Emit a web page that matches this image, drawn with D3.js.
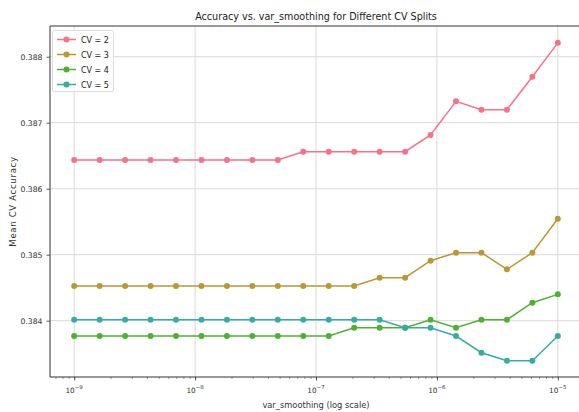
<!DOCTYPE html>
<html>
<head>
<meta charset="utf-8">
<script src="https://cdn.jsdelivr.net/npm/d3@7"></script>
<style>
  body { margin: 0; background: #fff; }
  svg { display: block; font-family: "DejaVu Sans", sans-serif; }
</style>
</head>
<body>
<script>
// var_smoothing = logspace(-9, -5, 20)
var smoothing = [1e-9, 1.624e-9, 2.637e-9, 4.281e-9, 6.952e-9, 1.129e-8, 1.833e-8, 2.976e-8,
  4.833e-8, 7.848e-8, 1.274e-7, 2.069e-7, 3.360e-7, 5.456e-7, 8.859e-7, 1.438e-6,
  2.336e-6, 3.793e-6, 6.158e-6, 1e-5];

var cv2 = [0.386435, 0.386435, 0.386435, 0.386435, 0.386435, 0.386435, 0.386435, 0.386435,
  0.386435, 0.386561, 0.386561, 0.386561, 0.386561, 0.386561, 0.386814, 0.387324,
  0.387197, 0.387197, 0.387697, 0.388210];
var cv3 = [0.384526, 0.384526, 0.384526, 0.384526, 0.384526, 0.384526, 0.384526, 0.384526,
  0.384526, 0.384526, 0.384526, 0.384526, 0.384652, 0.384652, 0.384909, 0.385030,
  0.385030, 0.384779, 0.385030, 0.385545];
var cv4 = [0.383768, 0.383768, 0.383768, 0.383768, 0.383768, 0.383768, 0.383768, 0.383768,
  0.383768, 0.383768, 0.383768, 0.383894, 0.383894, 0.383894, 0.384015, 0.383894,
  0.384015, 0.384015, 0.384273, 0.384399];
var cv5 = [0.384015, 0.384015, 0.384015, 0.384015, 0.384015, 0.384015, 0.384015, 0.384015,
  0.384015, 0.384015, 0.384015, 0.384015, 0.384015, 0.383894, 0.383894, 0.383768,
  0.383515, 0.383394, 0.383394, 0.383768];

var seriesNames = ["CV = 2", "CV = 3", "CV = 4", "CV = 5"];
var seriesColors = ["#f77189", "#bb9832", "#50b131", "#36ada4"];
var yTicks = [0.384, 0.385, 0.386, 0.387, 0.388];
var xTicks = [1e-9, 1e-8, 1e-7, 1e-6, 1e-5];

var series = [cv2, cv3, cv4, cv5];

var width = 579, height = 412;
var mLeft = 50, mRight = 582, mTop = 26, mBottom = 377;

var svg = d3.select("body").append("svg")
    .attr("width", width)
    .attr("height", height);

var x = d3.scaleLog()
    .domain([10 ** (-9 - 0.2), 10 ** (-5 + 0.2)])
    .range([mLeft, mRight]);

var y = d3.scaleLinear()
    .domain([0.383147, 0.388465])
    .range([mBottom, mTop]);

// grid
svg.append("g").selectAll("line")
    .data(xTicks).enter()
    .append("line")
    .attr("x1", function(d){ return x(d); })
    .attr("x2", function(d){ return x(d); })
    .attr("y1", mTop).attr("y2", mBottom)
    .attr("stroke", "#dadada").attr("stroke-width", 1);

svg.append("g").selectAll("line")
    .data(yTicks).enter()
    .append("line")
    .attr("y1", function(d){ return y(d); })
    .attr("y2", function(d){ return y(d); })
    .attr("x1", mLeft).attr("x2", mRight)
    .attr("stroke", "#dadada").attr("stroke-width", 1);

// lines and markers
var line = d3.line()
    .x(function(d, i){ return x(smoothing[i]); })
    .y(function(d){ return y(d); });

series.forEach(function(s, k){
  svg.append("path")
      .datum(s)
      .attr("fill", "none")
      .attr("stroke", seriesColors[k])
      .attr("stroke-width", 1.5)
      .attr("d", line);

  svg.append("g").selectAll("circle")
      .data(s).enter()
      .append("circle")
      .attr("cx", function(d, i){ return x(smoothing[i]); })
      .attr("cy", function(d){ return y(d); })
      .attr("r", 3)
      .attr("fill", seriesColors[k]);
});

// axes
var gx = svg.append("g")
    .attr("transform", "translate(0," + mBottom + ")")
    .call(d3.axisBottom(x).tickValues(x.ticks()).tickSize(2).tickFormat(""));
gx.select(".domain").remove();
gx.selectAll("line").attr("stroke", "#555").attr("stroke-width", 0.6);

var gxMajor = svg.append("g")
    .attr("transform", "translate(0," + mBottom + ")")
    .call(d3.axisBottom(x).tickValues(xTicks).tickSize(3.5).tickFormat(""));
gxMajor.select(".domain").remove();
gxMajor.selectAll("line").attr("stroke", "#333").attr("stroke-width", 0.8);

var xLab = svg.append("g").selectAll("text")
    .data(xTicks).enter()
    .append("text")
    .attr("x", function(d){ return x(d); })
    .attr("y", 393)
    .attr("text-anchor", "middle")
    .attr("font-size", 7.3)
    .attr("fill", "#333");
xLab.append("tspan").text("10");
xLab.append("tspan")
    .attr("dy", -4)
    .attr("font-size", 5.5)
    .text(function(d){ return "\u2212" + Math.round(-Math.log10(d)); });

var gy = svg.append("g")
    .attr("transform", "translate(" + mLeft + ",0)")
    .call(d3.axisLeft(y).tickValues(yTicks).tickSize(3.5).tickPadding(4)
      .tickFormat(d3.format(".3f")));
gy.select(".domain").remove();
gy.selectAll("line").attr("stroke", "#333").attr("stroke-width", 0.8);
gy.selectAll("text")
    .attr("font-family", "DejaVu Sans")
    .attr("font-size", 7.7)
    .attr("fill", "#333");

// spines
svg.append("line")
    .attr("x1", mLeft).attr("x2", mLeft).attr("y1", mTop).attr("y2", mBottom)
    .attr("stroke", "#333").attr("stroke-width", 1);
svg.append("line")
    .attr("x1", mLeft).attr("x2", mRight).attr("y1", mBottom).attr("y2", mBottom)
    .attr("stroke", "#333").attr("stroke-width", 1);
svg.append("line")
    .attr("x1", mLeft).attr("x2", mRight).attr("y1", mTop).attr("y2", mTop)
    .attr("stroke", "#333").attr("stroke-width", 1);

// title and labels
svg.append("text")
    .attr("x", (mLeft + mRight) / 2)
    .attr("y", 20)
    .attr("text-anchor", "middle")
    .attr("font-size", 9.6)
    .attr("fill", "#222")
    .text("Accuracy vs. var_smoothing for Different CV Splits");

svg.append("text")
    .attr("x", (mLeft + mRight) / 2)
    .attr("y", 408)
    .attr("text-anchor", "middle")
    .attr("font-size", 8.3)
    .attr("fill", "#333")
    .text("var_smoothing (log scale)");

svg.append("text")
    .attr("transform", "translate(16," + (mTop + mBottom) / 2 + ") rotate(-90)")
    .attr("text-anchor", "middle")
    .attr("font-size", 8.5)
    .attr("letter-spacing", 0.7)
    .attr("fill", "#333")
    .text("Mean CV Accuracy");

// legend
var legend = svg.append("g");
legend.append("rect")
    .attr("x", 52.5).attr("y", 30.5)
    .attr("width", 61).attr("height", 61)
    .attr("rx", 2)
    .attr("fill", "#fff").attr("fill-opacity", 0.8)
    .attr("stroke", "#ddd");

var items = legend.selectAll("g")
    .data(seriesNames).enter()
    .append("g")
    .attr("transform", function(d, i){ return "translate(0," + (39.5 + i * 15) + ")"; });
items.append("line")
    .attr("x1", 57).attr("x2", 76)
    .attr("stroke", function(d, i){ return seriesColors[i]; })
    .attr("stroke-width", 1.5);
items.append("circle")
    .attr("cx", 66.5).attr("r", 3)
    .attr("fill", function(d, i){ return seriesColors[i]; });
items.append("text")
    .attr("x", 81).attr("y", 3)
    .attr("font-size", 8)
    .attr("fill", "#222")
    .text(function(d){ return d; });
</script>
</body>
</html>
